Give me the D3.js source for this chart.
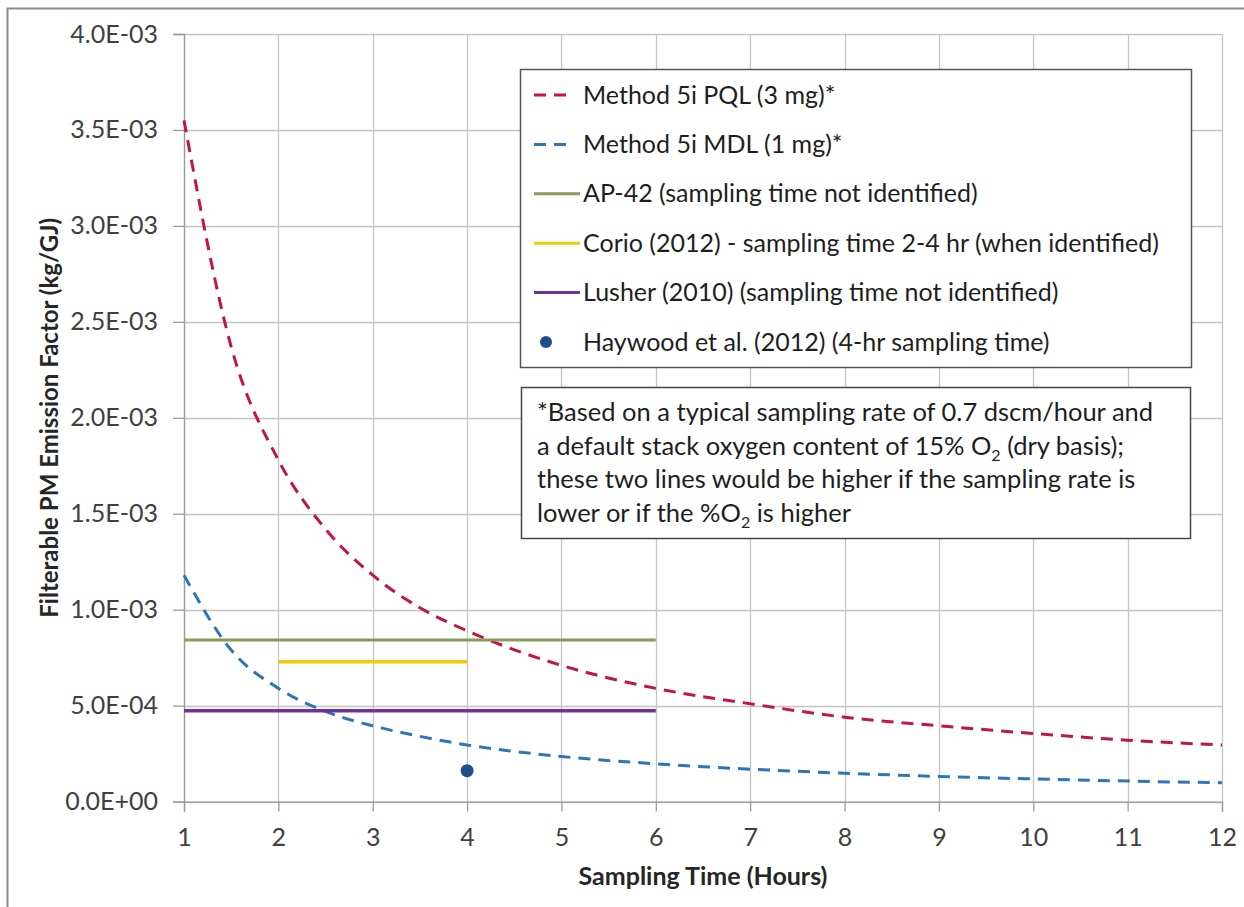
<!DOCTYPE html>
<html>
<head>
<meta charset="utf-8">
<script src="https://cdn.jsdelivr.net/npm/d3@7"></script>
<style>
body { margin: 0; background: #fff; }
text { font-family: Lato, "Open Sans", sans-serif; }
</style>
</head>
<body>
<script>
// values
var hours = [1, 1.5, 2, 2.5, 3, 3.5, 4, 5, 6, 7, 8, 9, 10, 11, 12];
var pqlValues = [3.55e-3, 2.37e-3, 1.78e-3, 1.42e-3, 1.18e-3, 1.01e-3, 8.9e-4, 7.1e-4, 5.9e-4, 5.1e-4, 4.4e-4, 3.95e-4, 3.55e-4, 3.2e-4, 2.95e-4];
var mdlValues = [1.18e-3, 7.9e-4, 5.9e-4, 4.7e-4, 3.95e-4, 3.4e-4, 2.95e-4, 2.35e-4, 1.97e-4, 1.69e-4, 1.48e-4, 1.31e-4, 1.18e-4, 1.07e-4, 9.8e-5];
var ap42Hours = [1, 6];
var ap42Values = [8.42e-4, 8.42e-4];
var corioHours = [2, 4];
var corioValues = [7.29e-4, 7.29e-4];
var lusherHours = [1, 6];
var lusherValues = [4.73e-4, 4.73e-4];
var haywoodHours = [4];
var haywoodValues = [1.61e-4];

var xTicks = [1, 2, 3, 4, 5, 6, 7, 8, 9, 10, 11, 12];
var yTicks = [0, 5e-4, 1e-3, 1.5e-3, 2e-3, 2.5e-3, 3e-3, 3.5e-3, 4e-3];
var yTickLabels = ['0.0E+00', '5.0E-04', '1.0E-03', '1.5E-03', '2.0E-03', '2.5E-03', '3.0E-03', '3.5E-03', '4.0E-03'];

var legendLabels = [
    'Method 5i PQL (3 mg)*',
    'Method 5i MDL (1 mg)*',
    'AP-42 (sampling time not identified)',
    'Corio (2012) - sampling time 2-4 hr (when identified)',
    'Lusher (2010) (sampling time not identified)',
    'Haywood et al. (2012) (4-hr sampling time)'
];

// each line is a list of [text, isSubscript]
var noteLines = [
    [['*Based on a typical sampling rate of 0.7 dscm/hour and', false]],
    [['a default stack oxygen content of 15% O', false], ['2', true], [' (dry basis);', false]],
    [['these two lines would be higher if the sampling rate is', false]],
    [['lower or if the %O', false], ['2', true], [' is higher', false]]
];

var Chart = function() {
    this.setupSettings();
    this.createSVG();
    this.createFrame();
    this.createGrid();
    this.createAxes();
    this.createSeries();
    this.createLegend();
    this.createNote();
}

Chart.prototype.setupSettings = function() {
    this.width = 1244;
    this.height = 907;
    this.plot = { left: 184, right: 1222, top: 34, bottom: 801.6 };

    this.x = d3.scaleLinear().domain([1, 12]).range([this.plot.left, this.plot.right]);
    this.y = d3.scaleLinear().domain([0, 4e-3]).range([this.plot.bottom, this.plot.top]);

    this.series = [
        { label: legendLabels[0], xs: hours, ys: pqlValues, color: '#c3163d', dash: '12,8', width: 3, curved: true },
        { label: legendLabels[1], xs: hours, ys: mdlValues, color: '#2e75b6', dash: '12,8', width: 3, curved: true },
        { label: legendLabels[2], xs: ap42Hours, ys: ap42Values, color: '#8a9a5b', dash: null, width: 3 },
        { label: legendLabels[3], xs: corioHours, ys: corioValues, color: '#f5c80f', dash: null, width: 3.5 },
        { label: legendLabels[4], xs: lusherHours, ys: lusherValues, color: '#7030a0', dash: null, width: 3.5 },
        { label: legendLabels[5], xs: haywoodHours, ys: haywoodValues, color: '#1f4e8c', dot: true }
    ];
}

Chart.prototype.createSVG = function() {
    this.svg = d3.select('body').append('svg')
        .attr('width', this.width)
        .attr('height', this.height);
    this.svg.append('rect')
        .attr('width', this.width)
        .attr('height', this.height)
        .attr('fill', '#fff');
}

Chart.prototype.createFrame = function() {
    // outer chart border, only its top and left edges are inside the picture
    this.svg.append('rect')
        .attr('x', 7.5)
        .attr('y', 8.5)
        .attr('width', 1300)
        .attr('height', 1000)
        .attr('fill', 'none')
        .attr('stroke', '#8c8c8c')
        .attr('stroke-width', 2);
}

Chart.prototype.createGrid = function() {
    var obj = this;
    var g = this.svg.append('g').attr('class', 'grid');

    g.selectAll('.vgrid')
        .data(xTicks)
        .enter()
            .append('line')
            .attr('class', 'vgrid')
            .attr('x1', function(d) { return Math.round(obj.x(d)) + 0.5; })
            .attr('x2', function(d) { return Math.round(obj.x(d)) + 0.5; })
            .attr('y1', this.y(4e-3))
            .attr('y2', this.y(0))
            .attr('stroke', '#c4c4c4')
            .attr('stroke-width', 1.3);

    g.selectAll('.hgrid')
        .data(yTicks)
        .enter()
            .append('line')
            .attr('class', 'hgrid')
            .attr('x1', this.x(1))
            .attr('x2', this.x(12))
            .attr('y1', function(d) { return Math.round(obj.y(d)) + 0.5; })
            .attr('y2', function(d) { return Math.round(obj.y(d)) + 0.5; })
            .attr('stroke', '#c4c4c4')
            .attr('stroke-width', 1.3);
}

Chart.prototype.createAxes = function() {
    var yAxis = d3.axisLeft(this.y)
        .tickValues(yTicks)
        .tickFormat(function(d, i) { return yTickLabels[i]; })
        .tickSize(11)
        .tickPadding(15);
    var xAxis = d3.axisBottom(this.x)
        .tickValues(xTicks)
        .tickFormat(d3.format('d'))
        .tickSize(10)
        .tickPadding(17);

    var gy = this.svg.append('g')
        .attr('transform', 'translate(' + this.plot.left + ',0)')
        .call(yAxis);
    var gx = this.svg.append('g')
        .attr('transform', 'translate(0,' + this.plot.bottom + ')')
        .call(xAxis);

    [gx, gy].forEach(function(g) {
        g.select('.domain').attr('stroke', '#9a9a9a').attr('stroke-width', 1.3);
        g.selectAll('.tick line').attr('stroke', '#9a9a9a').attr('stroke-width', 1.3);
        g.selectAll('.tick text')
            .attr('fill', '#404040')
            .style('font-family', 'Lato, sans-serif')
            .style('font-size', '25px');
    });

    this.svg.append('text')
        .attr('x', (this.plot.left + this.plot.right) / 2)
        .attr('y', 885)
        .attr('text-anchor', 'middle')
        .attr('fill', '#262626')
        .style('font-size', '25px')
        .style('font-weight', 'bold')
        .text('Sampling Time (Hours)');

    this.svg.append('text')
        .attr('transform', 'translate(58,' + (this.plot.top + this.plot.bottom) / 2 + ') rotate(-90)')
        .attr('text-anchor', 'middle')
        .attr('fill', '#262626')
        .style('font-size', '24px')
        .style('font-weight', 'bold')
        .text('Filterable PM Emission Factor (kg/GJ)');
}

Chart.prototype.createSeries = function() {
    var obj = this;
    var g = this.svg.append('g').attr('class', 'series');

    this.series.forEach(function(s) {
        var pts = s.xs.map(function(h, i) { return [h, s.ys[i]]; });
        if (s.dot) {
            g.selectAll(null)
                .data(pts)
                .enter()
                    .append('circle')
                    .attr('cx', function(d) { return obj.x(d[0]); })
                    .attr('cy', function(d) { return obj.y(d[1]); })
                    .attr('r', 6.5)
                    .attr('fill', s.color);
            return;
        }
        var line = d3.line()
            .x(function(d) { return obj.x(d[0]); })
            .y(function(d) { return obj.y(d[1]); })
            .curve(s.curved ? d3.curveMonotoneX : d3.curveLinear);
        g.append('path')
            .attr('d', line(pts))
            .attr('fill', 'none')
            .attr('stroke', s.color)
            .attr('stroke-width', s.width)
            .attr('stroke-dasharray', s.dash);
    });
}

Chart.prototype.createLegend = function() {
    var box = { x: 520.5, y: 69.5, w: 671, h: 298 };
    var g = this.svg.append('g').attr('class', 'legend');

    g.append('rect')
        .attr('x', box.x)
        .attr('y', box.y)
        .attr('width', box.w)
        .attr('height', box.h)
        .attr('fill', '#fff')
        .attr('stroke', '#555')
        .attr('stroke-width', 1.5);

    var rows = g.selectAll('.row')
        .data(this.series)
        .enter()
            .append('g')
            .attr('class', 'row')
            .attr('transform', function(d, i) { return 'translate(0,' + (95 + i * 49.4) + ')'; });

    rows.each(function(s) {
        var row = d3.select(this);
        if (s.dot) {
            row.append('circle').attr('cx', 546).attr('cy', 0).attr('r', 6).attr('fill', s.color);
        } else if (s.dash) {
            row.append('line')
                .attr('x1', 534).attr('x2', 573).attr('y1', 0).attr('y2', 0)
                .attr('stroke', s.color).attr('stroke-width', 3)
                .attr('stroke-dasharray', '12,8');
        } else {
            row.append('line')
                .attr('x1', 534).attr('x2', 580).attr('y1', 0).attr('y2', 0)
                .attr('stroke', s.color).attr('stroke-width', 3);
        }
        row.append('text')
            .attr('x', 583)
            .attr('y', 8.5)
            .attr('fill', '#1e1e1e')
            .style('font-size', '25px')
            .text(s.label);
    });
}

Chart.prototype.createNote = function() {
    var g = this.svg.append('g').attr('class', 'note');

    g.append('rect')
        .attr('x', 521.5)
        .attr('y', 387.5)
        .attr('width', 669)
        .attr('height', 151)
        .attr('fill', '#fff')
        .attr('stroke', '#444')
        .attr('stroke-width', 1.5);

    noteLines.forEach(function(parts, i) {
        var t = g.append('text')
            .attr('x', 537)
            .attr('y', 421 + i * 33.7)
            .attr('fill', '#1e1e1e')
            .style('font-size', '25.5px');
        var shifted = false;
        parts.forEach(function(p) {
            var span = t.append('tspan').text(p[0]);
            if (p[1]) {
                span.attr('dy', 6).style('font-size', '16px');
                shifted = true;
            } else if (shifted) {
                span.attr('dy', -6);
                shifted = false;
            }
        });
    });
}

new Chart();
</script>
</body>
</html>
